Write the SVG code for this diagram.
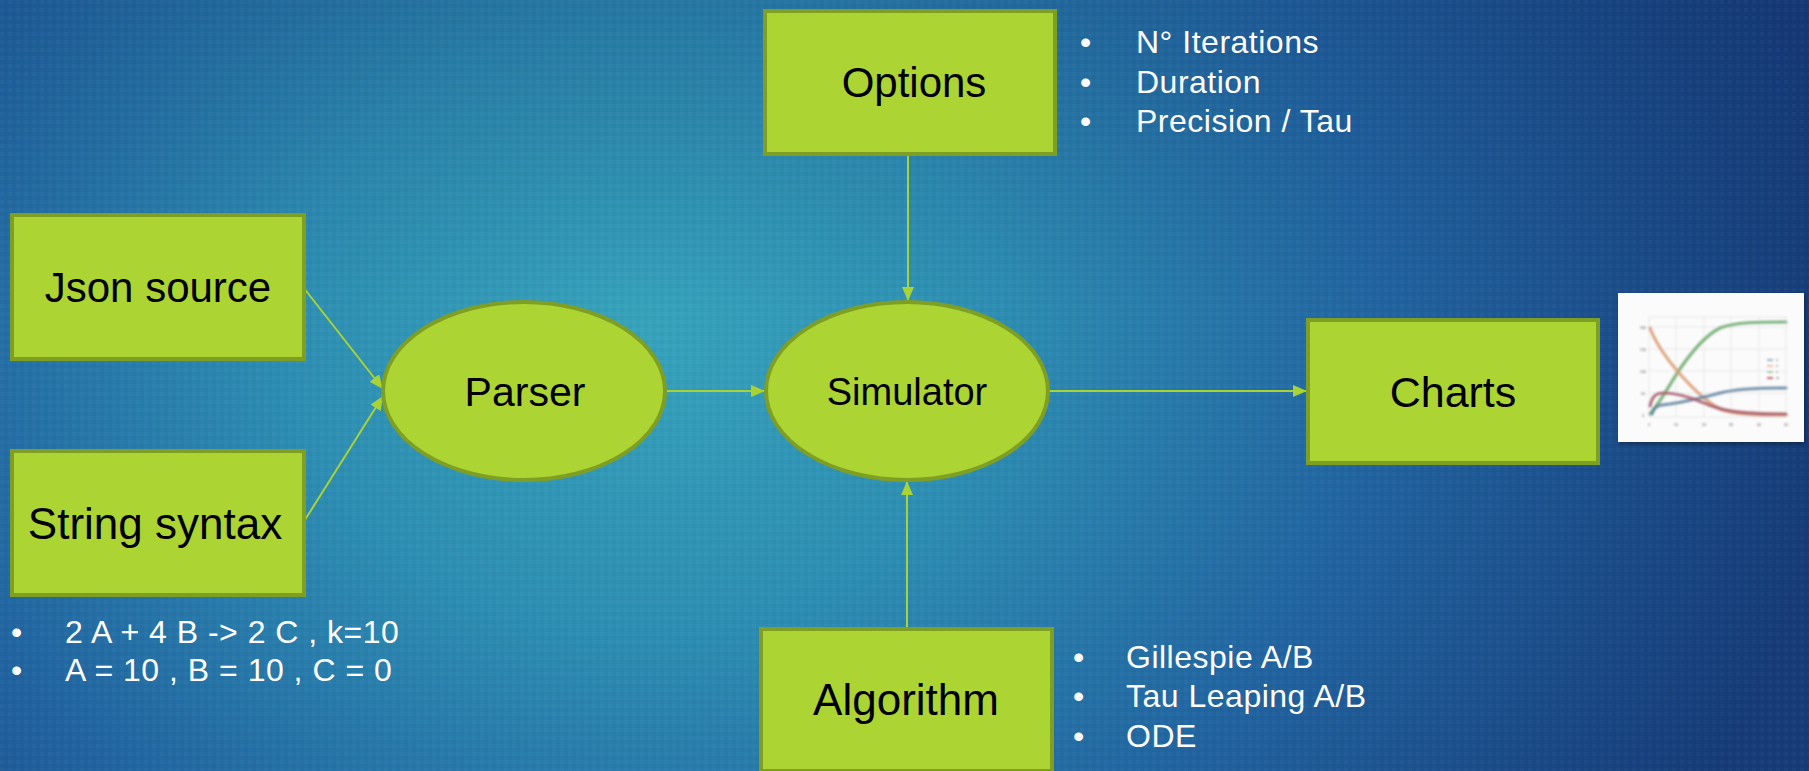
<svg xmlns="http://www.w3.org/2000/svg" width="1809" height="771" viewBox="0 0 1809 771">
  <defs>
    <radialGradient id="bg" gradientUnits="userSpaceOnUse" cx="640" cy="330" r="1200" gradientTransform="translate(640 330) scale(1 0.85) translate(-640 -330)">
      <stop offset="0" stop-color="#36a3bb"/>
      <stop offset="0.3" stop-color="#2d8db2"/>
      <stop offset="0.62" stop-color="#2163a0"/>
      <stop offset="0.85" stop-color="#1a4a86"/>
      <stop offset="1" stop-color="#163b78"/>
    </radialGradient>
    <linearGradient id="topShade" x1="0" y1="0" x2="0" y2="1">
      <stop offset="0" stop-color="#0e2f6a" stop-opacity="0.22"/>
      <stop offset="0.4" stop-color="#0e2f6a" stop-opacity="0"/>
    </linearGradient>
    <pattern id="grain" width="8" height="8" patternUnits="userSpaceOnUse">
      <rect width="4" height="4" fill="#ffffff" opacity="0.025"/>
      <rect x="4" y="4" width="4" height="4" fill="#000000" opacity="0.025"/>
    </pattern>
    <marker id="arrow" viewBox="0 0 14 12" refX="14" refY="6" markerWidth="14" markerHeight="12" markerUnits="userSpaceOnUse" orient="auto">
      <path d="M0,0 L14,6 L0,12 Z" fill="#a9d332"/>
    </marker>
    <filter id="soft" x="-5%" y="-5%" width="110%" height="110%">
      <feGaussianBlur stdDeviation="0.9"/>
    </filter>
    <filter id="shadow" x="-10%" y="-10%" width="120%" height="120%">
      <feGaussianBlur in="SourceAlpha" stdDeviation="2"/>
      <feOffset dx="1" dy="2"/>
      <feComponentTransfer><feFuncA type="linear" slope="0.4"/></feComponentTransfer>
      <feMerge><feMergeNode/><feMergeNode in="SourceGraphic"/></feMerge>
    </filter>
    <style>
      .node { fill: #acd433; stroke: #7f9e24; stroke-width: 4; }
      .label { font-family: "Liberation Sans", Arial, sans-serif; fill: #000000; text-anchor: middle; }
      .note { font-family: "Liberation Sans", Arial, sans-serif; fill: #ffffff; font-size: 32px; letter-spacing: 0.5px; }
      .link { stroke: #a9d332; stroke-width: 2; fill: none; marker-end: url(#arrow); }
      .grid { stroke: #e2e2e2; stroke-width: 0.8; fill: none; }
      .tick { font-family: "Liberation Sans", Arial, sans-serif; font-size: 4px; fill: #666666; text-anchor: middle; }
      .curve { fill: none; stroke-width: 3.2; stroke-linecap: round; stroke-linejoin: round; opacity: 0.85; }
    </style>
  </defs>

  <!-- backdrop -->
  <rect width="1809" height="771" fill="url(#bg)"/>
  <rect width="1809" height="771" fill="url(#topShade)"/>
  <rect width="1809" height="771" fill="url(#grain)"/>

  <!-- connectors -->
  <g id="connectors">
    <line class="link" x1="303" y1="287" x2="383" y2="389"/>
    <line class="link" x1="303" y1="523" x2="383" y2="396"/>
    <line class="link" x1="666" y1="391" x2="765" y2="391"/>
    <line class="link" x1="908" y1="153" x2="908" y2="301"/>
    <line class="link" x1="907" y1="629" x2="907" y2="481"/>
    <line class="link" x1="1048" y1="391" x2="1307" y2="391"/>
  </g>

  <g id="json-source">
    <rect class="node" x="12" y="215" width="292" height="144"/>
    <text class="label" x="158" y="302" font-size="42">Json source</text>
  </g>

  <g id="string-syntax">
    <rect class="node" x="12" y="451" width="292" height="144"/>
    <text class="label" x="155" y="539" font-size="44">String syntax</text>
  </g>

  <g id="parser">
    <ellipse class="node" cx="524" cy="391" rx="141" ry="89"/>
    <text class="label" x="525" y="406" font-size="41">Parser</text>
  </g>

  <g id="simulator">
    <ellipse class="node" cx="907" cy="391" rx="141" ry="89"/>
    <text class="label" x="907" y="405" font-size="38">Simulator</text>
  </g>

  <g id="options">
    <rect class="node" x="765" y="11" width="290" height="143"/>
    <text class="label" x="914" y="97" font-size="42">Options</text>
  </g>

  <g id="algorithm">
    <rect class="node" x="761" y="629" width="291" height="142"/>
    <text class="label" x="906" y="715" font-size="44">Algorithm</text>
  </g>

  <g id="charts">
    <rect class="node" x="1308" y="320" width="290" height="143"/>
    <text class="label" x="1453" y="407" font-size="43">Charts</text>
  </g>

  <!-- bullet notes -->
  <g id="options-notes" class="note">
    <text x="1080" y="53">•</text><text x="1136" y="53">N° Iterations</text>
    <text x="1080" y="93">•</text><text x="1136" y="93">Duration</text>
    <text x="1080" y="132">•</text><text x="1136" y="132">Precision / Tau</text>
  </g>

  <g id="algorithm-notes" class="note">
    <text x="1073" y="668">•</text><text x="1126" y="668">Gillespie A/B</text>
    <text x="1073" y="707">•</text><text x="1126" y="707">Tau Leaping A/B</text>
    <text x="1073" y="747">•</text><text x="1126" y="747">ODE</text>
  </g>

  <g id="syntax-notes" class="note">
    <text x="11" y="643">•</text><text x="65" y="643">2 A + 4 B -&gt; 2 C , k=10</text>
    <text x="11" y="681">•</text><text x="65" y="681">A = 10 , B = 10 , C = 0</text>
  </g>

  <!-- sample result plot -->
  <g id="chart-preview">
    <rect x="1618" y="293" width="186" height="149" fill="#fbfbfb" filter="url(#shadow)"/>
    <g filter="url(#soft)">
      <rect class="grid" x="1649" y="317" width="137" height="100"/>
      <path class="grid" d="M1676,317V417M1704,317V417M1731,317V417M1759,317V417M1649,327H1786M1649,349H1786M1649,371H1786M1649,393H1786"/>
      <text class="tick" x="1643" y="329">200</text>
      <text class="tick" x="1643" y="351">150</text>
      <text class="tick" x="1643" y="373">100</text>
      <text class="tick" x="1643" y="395">50</text>
      <text class="tick" x="1643" y="417">0</text>
      <text class="tick" x="1649" y="426">0</text>
      <text class="tick" x="1676" y="426">10</text>
      <text class="tick" x="1704" y="426">20</text>
      <text class="tick" x="1731" y="426">30</text>
      <text class="tick" x="1759" y="426">40</text>
      <text class="tick" x="1786" y="426">50</text>
      <path class="curve" stroke="#6aa86a" d="M1650,414 C1662,400 1672,380 1682,366 C1694,349 1706,335 1720,328 C1735,322 1760,322 1786,322"/>
      <path class="curve" stroke="#d99a70" d="M1650,328 C1656,344 1666,358 1680,374 C1694,390 1708,403 1722,410 C1738,415 1760,415 1786,415"/>
      <path class="curve" stroke="#5d819f" d="M1652,414 C1654,406 1658,405 1670,404 C1690,401 1705,397 1720,393 C1735,389 1755,388 1786,388"/>
      <path class="curve" stroke="#a8586a" d="M1650,406 C1652,396 1656,393 1664,393 C1676,393 1690,397 1704,403 C1720,410 1736,414 1786,414"/>
      <path d="M1767,360h6" stroke="#5d819f" stroke-width="1.2"/>
      <path d="M1767,366h6" stroke="#d99a70" stroke-width="1.2"/>
      <path d="M1767,372h6" stroke="#6aa86a" stroke-width="1.2"/>
      <path d="M1767,378h6" stroke="#c0404a" stroke-width="1.6"/>
      <path d="M1776,360h2M1776,366h2M1776,372h2M1776,378h3" stroke="#777777" stroke-width="1"/>
    </g>
  </g>
</svg>
